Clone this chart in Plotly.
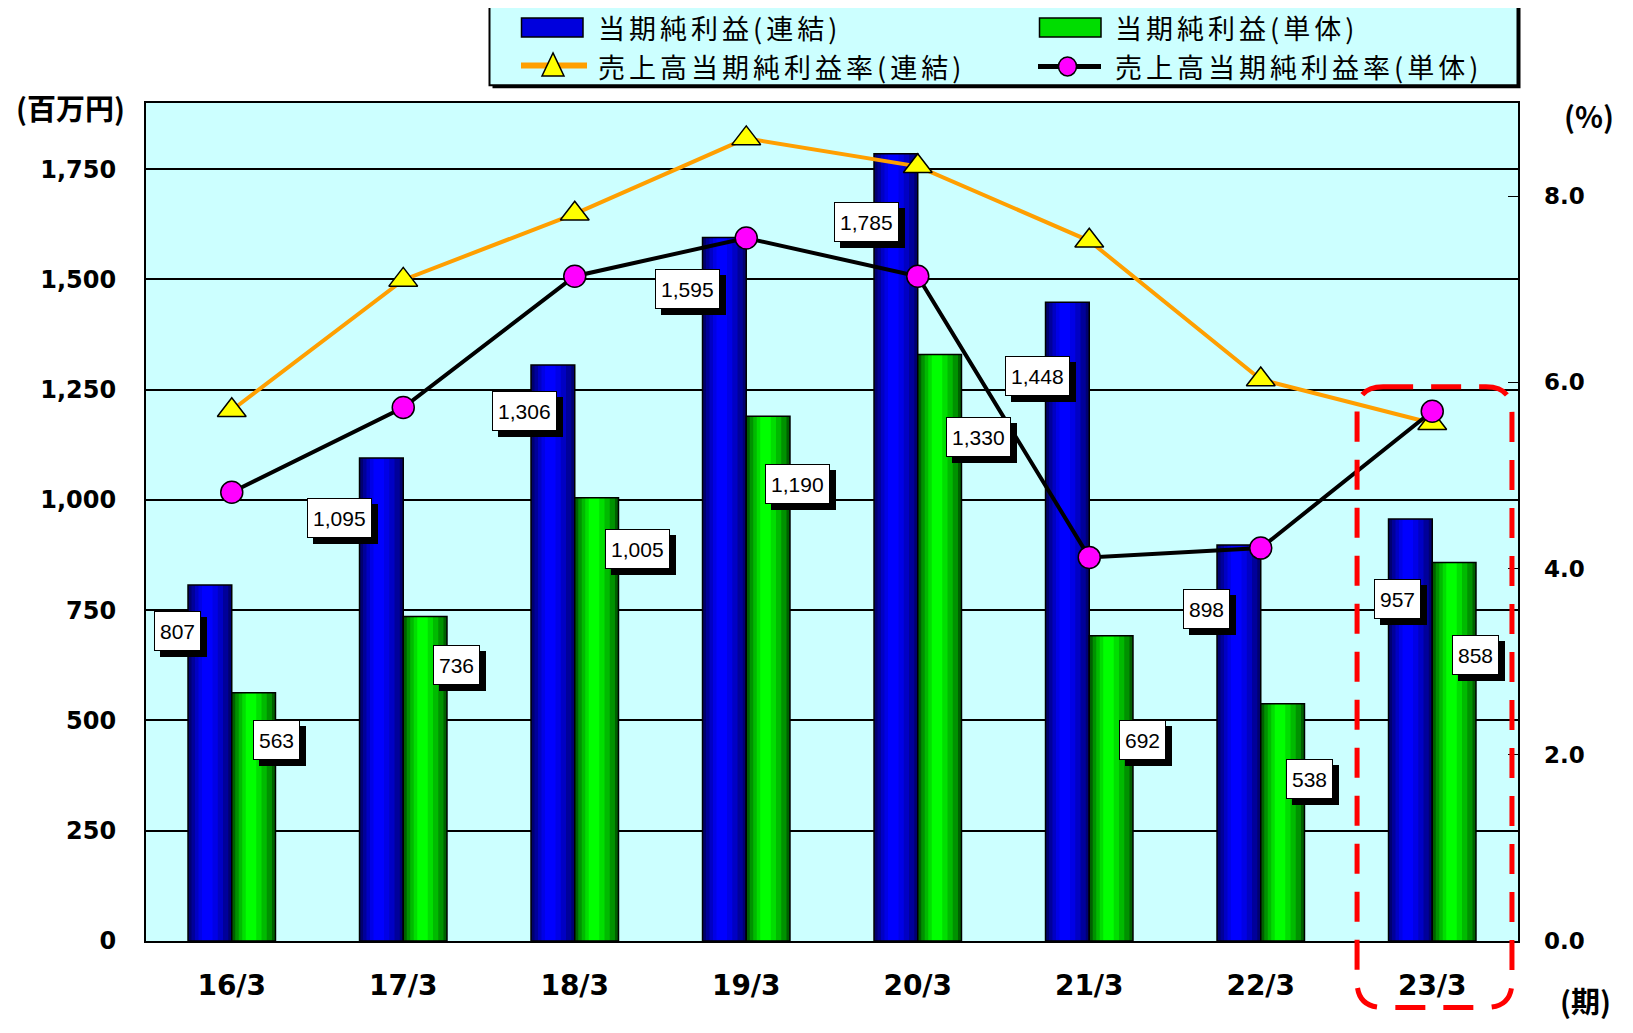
import plotly.graph_objects as go

periods = ["16/3", "17/3", "18/3", "19/3", "20/3", "21/3", "22/3", "23/3"]
profit_consol = [807, 1095, 1306, 1595, 1785, 1448, 898, 957]
profit_single = [563, 736, 1005, 1190, 1330, 692, 538, 858]
margin_consol = [5.70, 7.10, 7.81, 8.62, 8.32, 7.52, 6.03, 5.56]
margin_single = [4.82, 5.73, 7.14, 7.55, 7.14, 4.12, 4.22, 5.69]

# ラベル位置の微調整（px）
consol_label_dx = [-54, -64, -50, -59, -51, -52, -54, -35]
consol_label_dy = [46, 60, 46, 51, 68, 74, 64, 80]
single_label_dx = [45, 53, 63, 51, 61, 53, 49, 43]
single_label_dy = [47, 49, 51, 68, 83, 104, 75, 92]

BG = "#CCFFFF"
CJK = "Noto Sans CJK JP"
NUM = "DejaVu Sans"
BAR_W = 0.255

# 円柱風のグラデーション（外側から内側へ重ねる）
bands = [(0.00, 1.00), (0.08, 0.92), (0.16, 0.80), (0.24, 0.68), (0.32, 0.56)]
blue_shades = ["#000070", "#00009A", "#0000C4", "#0000E6", "#0000FF"]
green_shades = ["#006000", "#009200", "#00BA00", "#00DE00", "#00FF00"]

# 画面上のピクセル位置 -> paper 座標（プロット領域 146..1518 x 103..941.5）
def px(x):
    return (x - 146) / 1372


def py(y):
    return (941.5 - y) / 838.4


fig = go.Figure()


def add_shaded_bars(values, shades, base_offset):
    for (a, b), c in zip(bands, shades):
        fig.add_trace(go.Bar(
            x=periods, y=values,
            offset=base_offset + a * BAR_W, width=(b - a) * BAR_W,
            marker=dict(color=c, line=dict(width=0)), hoverinfo="skip",
        ))
    fig.add_trace(go.Bar(
        x=periods, y=values,
        offset=base_offset, width=BAR_W,
        marker=dict(color="rgba(0,0,0,0)", line=dict(color="black", width=1.5)),
    ))


add_shaded_bars(profit_consol, blue_shades, -BAR_W)
add_shaded_bars(profit_single, green_shades, 0)

fig.add_trace(go.Scatter(
    x=periods, y=margin_consol, name="売上高当期純利益率(連結)", yaxis="y2",
    mode="lines+markers",
    line=dict(color="#FF9F00", width=4),
    marker=dict(symbol="triangle-up", size=25, color="#FFFF00",
                line=dict(color="black", width=1.5)),
))
fig.add_trace(go.Scatter(
    x=periods, y=margin_single, name="売上高当期純利益率(単体)", yaxis="y2",
    mode="lines+markers",
    line=dict(color="black", width=4),
    marker=dict(symbol="circle", size=22, color="#FF00FF",
                line=dict(color="black", width=1.5)),
))


# 値ラベル（白い箱＋黒い影）
def add_label(x, y, value, xshift, yshift):
    text = f"{value:,}"
    w = 11.7 * sum(ch.isdigit() for ch in text) + 5.8 * text.count(",") + 2
    common = dict(x=x, y=y, showarrow=False, width=w, height=30,
                  borderwidth=1, borderpad=4, bordercolor="black")
    fig.add_annotation(text=" ", xshift=xshift + 6, yshift=yshift - 6,
                       bgcolor="black", **common)
    fig.add_annotation(text=text, xshift=xshift, yshift=yshift, bgcolor="white",
                       font=dict(family="Liberation Sans", size=21, color="black"),
                       **common)


for p, v, dx, dy in zip(periods, profit_consol, consol_label_dx, consol_label_dy):
    add_label(p, v, v, dx, -dy)
for p, v, dx, dy in zip(periods, profit_single, single_label_dx, single_label_dy):
    add_label(p, v, v, dx, -dy)

# 単位
unit_font = dict(family=CJK, size=29, color="black", weight="bold")
fig.add_annotation(xref="paper", yref="paper", x=px(70), y=py(107), text="(百万円)",
                   showarrow=False, xanchor="center", yanchor="middle", font=unit_font)
fig.add_annotation(xref="paper", yref="paper", x=px(1589), y=py(115), text="(%)",
                   showarrow=False, xanchor="center", yanchor="middle", font=unit_font)
fig.add_annotation(xref="paper", yref="paper", x=px(1586), y=py(1024), text="(期)",
                   showarrow=False, xanchor="center", yanchor="bottom", font=unit_font)

# 凡例（枠・記号・文字）
fig.add_shape(type="rect", xref="paper", yref="paper", layer="above",
              x0=px(492.5), x1=px(1520.5), y0=py(88.4), y1=py(8),
              fillcolor="black", line=dict(width=0))
fig.add_shape(type="rect", xref="paper", yref="paper", layer="above",
              x0=px(489.5), x1=px(1517.5), y0=py(85.4), y1=py(5),
              fillcolor=BG, line=dict(color="black", width=2))

fig.add_shape(type="rect", xref="paper", yref="paper", layer="above",
              x0=px(521.5), x1=px(583), y0=py(37), y1=py(18),
              fillcolor="#0000DD", line=dict(color="black", width=1.5))
fig.add_shape(type="rect", xref="paper", yref="paper", layer="above",
              x0=px(1039.5), x1=px(1101), y0=py(37), y1=py(18),
              fillcolor="#00DD00", line=dict(color="black", width=1.5))
fig.add_shape(type="line", xref="paper", yref="paper", layer="above",
              x0=px(521), x1=px(587), y0=py(65.5), y1=py(65.5),
              line=dict(color="#FF9F00", width=6))
fig.add_shape(type="path", xref="paper", yref="paper", layer="above",
              path=f"M {px(553)},{py(53)} L {px(564)},{py(76)} L {px(542)},{py(76)} Z",
              fillcolor="#FFFF00", line=dict(color="black", width=1.5))
fig.add_shape(type="line", xref="paper", yref="paper", layer="above",
              x0=px(1038), x1=px(1101), y0=py(66.5), y1=py(66.5),
              line=dict(color="black", width=5))
fig.add_shape(type="circle", xref="paper", yref="paper", layer="above",
              x0=px(1058.5), x1=px(1076.5), y0=py(76), y1=py(57),
              fillcolor="#FF00FF", line=dict(color="black", width=1.5))

legend_font = dict(family=CJK, size=27, color="black")
for text, x, y in [("当期純利益(連結)", 596, 28), ("当期純利益(単体)", 1113, 28),
                   ("売上高当期純利益率(連結)", 596, 67), ("売上高当期純利益率(単体)", 1113, 67)]:
    fig.add_annotation(xref="paper", yref="paper", x=px(x), y=py(y),
                       text=f'<span style="letter-spacing:4px">{text}</span>',
                       showarrow=False, xanchor="left", yanchor="middle", font=legend_font)

# 23/3 を囲む赤い破線
x0, x1, y0, y1 = 0.8827, 0.9956, -0.0793, 0.6614
rx, ry = 0.019, 0.031
path = (f"M {x0+rx},{y1} L {x1-rx},{y1} Q {x1},{y1} {x1},{y1-ry} "
        f"L {x1},{y0+ry} Q {x1},{y0} {x1-rx},{y0} L {x0+rx},{y0} "
        f"Q {x0},{y0} {x0},{y0+ry} L {x0},{y1-ry} Q {x0},{y1} {x0+rx},{y1} Z")
fig.add_shape(type="path", path=path, xref="paper", yref="paper", layer="above",
              line=dict(color="#FF0000", width=5, dash="30px,18px"))

fig.update_layout(
    width=1617, height=1017,
    margin=dict(l=138, r=106.5, t=95, b=83.5, autoexpand=False),
    paper_bgcolor="white", plot_bgcolor=BG,
    barmode="overlay",
    showlegend=False,
    xaxis=dict(
        showline=True, linecolor="black", linewidth=2, mirror=True,
        ticks="", ticklabelstandoff=18,
        tickfont=dict(family=NUM, size=28, color="black", weight="bold"),
    ),
    yaxis=dict(
        range=[0, 1900], dtick=250, tickformat=",",
        showgrid=True, gridcolor="black", gridwidth=1.5,
        showline=True, linecolor="black", linewidth=2, mirror=True,
        ticks="", ticklabelstandoff=23, zeroline=False,
        tickfont=dict(family=NUM, size=24, color="black", weight="bold"),
    ),
    yaxis2=dict(
        overlaying="y", side="right", range=[0, 9], dtick=2, tickformat=".1f",
        showgrid=False, zeroline=False,
        ticks="inside", ticklen=10, tickcolor="black", ticklabelstandoff=25,
        tickfont=dict(family=NUM, size=23, color="black", weight="bold"),
    ),
)

fig.write_html("out.html")
